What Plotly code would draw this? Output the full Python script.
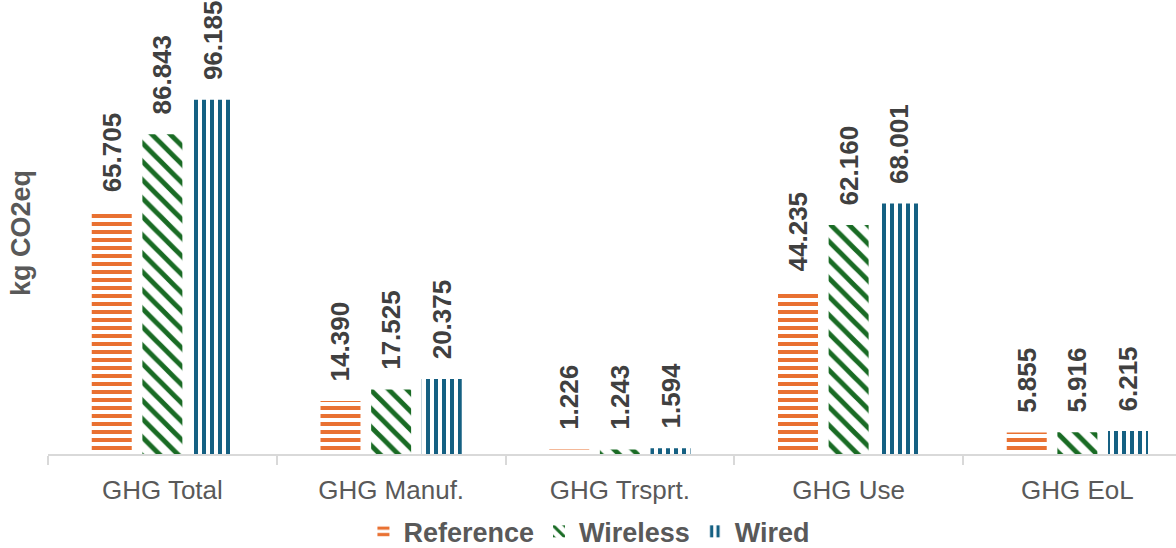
import plotly.graph_objects as go

categories = ["GHG Total", "GHG Manuf.", "GHG Trsprt.", "GHG Use", "GHG EoL"]
reference = [65.705, 14.390, 1.226, 44.235, 5.855]
wireless = [86.843, 17.525, 1.243, 62.160, 5.916]
wired = [96.185, 20.375, 1.594, 68.001, 6.215]

series = [
    ("Reference", reference, "#E97132", "-", 8, 0.5),
    ("Wireless", wireless, "#196B24", "\\", 13, 0.38),
    ("Wired", wired, "#156082", "|", 8, 0.5),
]

LABEL_FONT = "Liberation Sans"
PAD = "\u00a0\u00a0\u200a"

fig = go.Figure()
for name, values, color, shape, size, solidity in series:
    label_font = dict(family=LABEL_FONT, size=26, color="#404040", weight="bold")
    fig.add_trace(go.Bar(
        name=name,
        x=categories,
        y=values,
        text=[PAD + f"{v:.3f}" for v in values],
        textposition="outside",
        textangle=-90,
        constraintext="none",
        cliponaxis=False,
        textfont=label_font,
        outsidetextfont=label_font,
        marker=dict(
            color="white",
            line=dict(width=0),
            pattern=dict(shape=shape, fgcolor=color, bgcolor="white",
                         size=size, solidity=solidity, fillmode="replace"),
        ),
    ))

fig.update_layout(
    width=1176,
    height=548,
    barmode="group",
    bargap=0.336,
    bargroupgap=0.21,
    margin=dict(l=48, r=0, t=12, b=94, autoexpand=False),
    paper_bgcolor="white",
    plot_bgcolor="white",
    font=dict(family=LABEL_FONT, color="#595959"),
    xaxis=dict(
        range=[-0.5, -0.5 + 1128 / 228.75],
        showline=True,
        linecolor="#D9D9D9",
        linewidth=2,
        ticks="outside",
        tickson="boundaries",
        ticklen=9,
        tickwidth=2,
        tickcolor="#D9D9D9",
        ticklabelstandoff=12,
        tickfont=dict(family=LABEL_FONT, size=26, color="#595959"),
        showgrid=False,
        zeroline=False,
    ),
    yaxis=dict(
        range=[0, 120],
        showticklabels=False,
        showgrid=False,
        zeroline=False,
        showline=False,
        ticks="",
        title=dict(text="kg CO2eq", standoff=8,
                   font=dict(family=LABEL_FONT, size=27, color="#595959", weight="bold")),
    ),
    legend=dict(
        orientation="h",
        x=0.48,
        xanchor="center",
        y=-0.176,
        yanchor="middle",
        font=dict(family=LABEL_FONT, size=27, color="#595959", weight="bold"),
        itemwidth=30,
        tracegroupgap=0,
    ),
)

fig.write_html("out.html", config={"displayModeBar": False})
